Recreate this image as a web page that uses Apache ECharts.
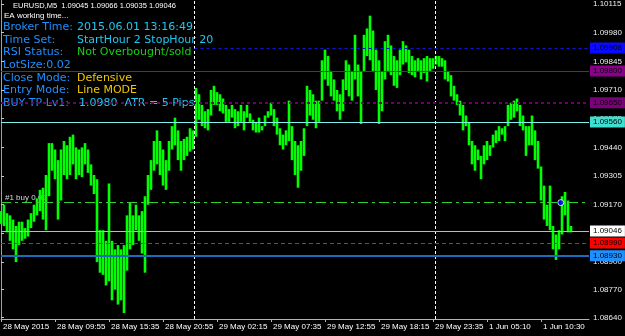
<!DOCTYPE html>
<html>
<head>
<meta charset="utf-8">
<title>EURUSD,M5</title>
<script src="https://cdn.jsdelivr.net/npm/echarts@6/dist/echarts.min.js"></script>
<style>html,body{margin:0;padding:0;background:#000;}</style>
</head>
<body>
<div id="main" style="width:625px;height:336px;"></div>
<script>
// time axis labels, one every 18 slots
var timeLabels = ['28 May 2015', '28 May 09:55', '28 May 15:35', '28 May 20:55', '29 May 02:15',
    '29 May 07:35', '29 May 12:55', '29 May 18:15', '29 May 23:35', '1 Jun 05:10', '1 Jun 10:30'];
var priceTicks = [1.10115, 1.09980, 1.09845, 1.09710, 1.09575, 1.09440, 1.09305, 1.09170,
    1.09035, 1.08900, 1.08770, 1.08640];

// high / low of each column of bars
var highs = [
    1.0914, 1.0917, 1.0913, 1.0912, 1.0910, 1.0907, 1.0909, 1.0909, 1.0906, 1.0910,
    1.0913, 1.0917, 1.0920, 1.0924, 1.0925, 1.0931, 1.0946, 1.0946, 1.0943, 1.0938,
    1.0943, 1.0947, 1.0945, 1.0949, 1.0950, 1.0944, 1.0943, 1.0944, 1.0946, 1.0943,
    1.0936, 1.0931, 1.0929, 1.0905, 1.0905, 1.0900, 1.0927, 1.0900, 1.0896, 1.0898,
    1.0896, 1.0898, 1.0912, 1.0918, 1.0912, 1.0917, 1.0912, 1.0914, 1.0921, 1.0931,
    1.0938, 1.0947, 1.0952, 1.0947, 1.0943, 1.0938, 1.0947, 1.0954, 1.0958, 1.0952,
    1.0947, 1.0948, 1.0949, 1.0953, 1.0952, 1.0972, 1.0969, 1.0964, 1.0961, 1.0962,
    1.0971, 1.0973, 1.0970, 1.0969, 1.0967, 1.0964, 1.0962, 1.0964, 1.0962, 1.0961,
    1.0964, 1.0961, 1.0964, 1.0960, 1.0957, 1.0956, 1.0958, 1.0954, 1.0959, 1.0961,
    1.0965, 1.0962, 1.0958, 1.0953, 1.0950, 1.0952, 1.0966, 1.0954, 1.0947, 1.0945,
    1.0947, 1.0953, 1.0973, 1.0971, 1.0969, 1.0966, 1.0966, 1.0985, 1.0990, 1.0987,
    1.0980, 1.0976, 1.0971, 1.0969, 1.0976, 1.0985, 1.0983, 1.0980, 1.0997, 1.0983,
    1.0980, 1.0997, 1.1000, 1.1006, 1.0999, 1.0990, 1.0985, 1.0980, 1.0994, 1.0997,
    1.0992, 1.0987, 1.0985, 1.0990, 1.0994, 1.0992, 1.0990, 1.0987, 1.0985, 1.0986,
    1.0985, 1.0986, 1.0987, 1.0986, 1.0986, 1.0987, 1.0987, 1.0986, 1.0985, 1.0980,
    1.0978, 1.0973, 1.0969, 1.0966, 1.0964, 1.0959, 1.0956, 1.0947, 1.0945, 1.0943,
    1.0940, 1.0945, 1.0947, 1.0945, 1.0950, 1.0952, 1.0954, 1.0953, 1.0954, 1.0964,
    1.0965, 1.0966, 1.0967, 1.0964, 1.0959, 1.0954, 1.0954, 1.0959, 1.0952, 1.0947,
    1.0935, 1.0926, 1.0917, 1.0926, 1.0907, 1.0903, 1.0905, 1.0921, 1.0923, 1.0919,
    1.0907
];
var lows = [
    1.0908, 1.0907, 1.0904, 1.0900, 1.0896, 1.0890, 1.0898, 1.0900, 1.0901, 1.0902,
    1.0906, 1.0909, 1.0912, 1.0914, 1.0910, 1.0905, 1.0921, 1.0933, 1.0929, 1.0910,
    1.0919, 1.0931, 1.0929, 1.0931, 1.0936, 1.0929, 1.0931, 1.0930, 1.0936, 1.0932,
    1.0926, 1.0922, 1.0890, 1.0885, 1.0884, 1.0879, 1.0881, 1.0872, 1.0877, 1.0870,
    1.0872, 1.0866, 1.0886, 1.0896, 1.0898, 1.0905, 1.0900, 1.0894, 1.0885, 1.0917,
    1.0924, 1.0933, 1.0936, 1.0931, 1.0926, 1.0924, 1.0933, 1.0943, 1.0945, 1.0938,
    1.0933, 1.0938, 1.0940, 1.0942, 1.0943, 1.0949, 1.0957, 1.0954, 1.0953, 1.0952,
    1.0959, 1.0964, 1.0964, 1.0961, 1.0960, 1.0956, 1.0956, 1.0958, 1.0953, 1.0954,
    1.0956, 1.0952, 1.0958, 1.0956, 1.0952, 1.0951, 1.0951, 1.0952, 1.0954, 1.0958,
    1.0959, 1.0954, 1.0950, 1.0945, 1.0943, 1.0945, 1.0947, 1.0938, 1.0931, 1.0925,
    1.0933, 1.0940, 1.0954, 1.0959, 1.0957, 1.0953, 1.0956, 1.0966, 1.0976, 1.0973,
    1.0968, 1.0966, 1.0961, 1.0957, 1.0961, 1.0971, 1.0968, 1.0966, 1.0976, 1.0968,
    1.0955, 1.0980, 1.0987, 1.0985, 1.0980, 1.0971, 1.0955, 1.0961, 1.0976, 1.0980,
    1.0978, 1.0973, 1.0972, 1.0978, 1.0983, 1.0984, 1.0979, 1.0978, 1.0977, 1.0980,
    1.0976, 1.0979, 1.0975, 1.0980, 1.0981, 1.0983, 1.0982, 1.0982, 1.0976, 1.0975,
    1.0968, 1.0966, 1.0964, 1.0959, 1.0952, 1.0954, 1.0945, 1.0936, 1.0933, 1.0938,
    1.0929, 1.0936, 1.0938, 1.0940, 1.0944, 1.0946, 1.0947, 1.0950, 1.0947, 1.0954,
    1.0957, 1.0958, 1.0961, 1.0954, 1.0952, 1.0940, 1.0945, 1.0945, 1.0938, 1.0934,
    1.0919, 1.0910, 1.0907, 1.0905, 1.0896, 1.0891, 1.0896, 1.0903, 1.0912, 1.0904,
    1.0904
];

// horizontal price levels (orders / EA lines) and vertical separators
var levelPrices = [1.09908, 1.09800, 1.09650, 1.09560, 1.09180, 1.09046, 1.08990, 1.08930];
var separators = [64.5, 144.6];
var orderOpen = [186.6, 1.09180];
var quote = [1.09045, 1.09066, 1.09035, 1.09046];

var panelKeys = ['Broker Time:', 'Time Set:', 'RSI Status:', 'LotSize:0.02', 'Close Mode:', 'Entry Mode:', 'BUY TP Lv1:'];
var panelValues = ['2015.06.01 13:16:49', 'StartHour 2 StopHour 20', 'Not Overbought/sold', '', 'Defensive', 'Line MODE', '1.0980  ATR = 5 Pips'];

var barsPerLabel = 18;
var slotCount = 196;

var font = 'Liberation Sans';
var panelFont = 'DejaVu Sans';

// from: slot where the line starts (the blue line starts at the first separator)
var levelStyles = [
    {from: 64.5, line: {color: '#1414d8', type: [3, 3], width: 1}, bg: '#0a0aff'},
    {from: 0, line: {color: '#9a009a', type: 'solid', width: 1}, bg: '#8a008a'},
    {from: 0, line: {color: '#6c006c', type: [3, 3], width: 2}, bg: '#7c007c'},
    {from: 0, line: {color: '#80f0ea', type: 'solid', width: 1}, bg: '#40e0d0'},
    {from: 0, line: {color: '#30d030', type: [10, 4, 3, 4], width: 1}, bg: null},
    {from: 0, line: {color: '#b8bcc8', type: 'solid', width: 1}, bg: '#ffffff'},
    {from: 0, line: {color: '#ff1010', type: [4, 3], width: 1}, bg: '#ff0000'},
    {from: 0, line: {color: '#1c6cbc', type: 'solid', width: 2}, bg: '#1e90ff'}
];
var valueColors = ['#1ec8f0', '#1ec8f0', '#16d016', '', '#f0c800', '#f0c800', '#1ec8f0'];

var myChart = echarts.init(document.getElementById('main'));

var barData = highs.map(function (h, i) { return [i, lows[i], h]; });

var levelLines = levelPrices.map(function (p, i) {
    var s = levelStyles[i];
    return [{
        coord: [s.from, p],
        lineStyle: s.line,
        label: s.bg ? {
            show: true, position: 'end', distance: 1,
            formatter: function () { return p.toFixed(5); },
            backgroundColor: s.bg, color: '#000', fontSize: 8, fontFamily: font,
            padding: [2, 3, 1, 3]
        } : {show: false}
    }, {coord: [slotCount, p]}];
});

var sepLines = separators.map(function (x) {
    return {xAxis: x, lineStyle: {color: '#ffffff', type: [3, 2], width: 1}, label: {show: false}};
});

var graphics = [
    {type: 'text', x: 13, y: 6, style: {text: 'EURUSD,M5  ' + quote.map(function (q) { return q.toFixed(5); }).join(' '),
        fill: '#ffffff', font: '7.5px "' + font + '"', verticalAlign: 'middle'}},
    {type: 'text', x: 4, y: 16, style: {text: 'EA working time...', fill: '#ffffff', font: '8px "' + font + '"', verticalAlign: 'middle'}},
    {type: 'text', x: 5, y: 198, style: {text: '#1 buy 0.02', fill: '#d8d8e0', font: '8px "' + font + '"', verticalAlign: 'middle'}}
];
var rowY = [27, 40, 52.5, 65, 78, 90.5, 103];
panelKeys.forEach(function (k, i) {
    graphics.push({type: 'text', x: 3, y: rowY[i], style: {text: k, fill: '#1e90ff', font: '11px "' + panelFont + '"', verticalAlign: 'middle'}});
    if (panelValues[i]) {
        graphics.push({type: 'text', x: i === 6 ? 79 : 77, y: rowY[i], style: {text: panelValues[i], fill: valueColors[i], font: '11px "' + panelFont + '"', verticalAlign: 'middle'}});
    }
});

var option = {
    backgroundColor: '#000000',
    animation: false,
    grid: {left: 0, right: 36, top: 0, bottom: 17, containLabel: false},
    xAxis: {
        type: 'value', min: 0, max: slotCount, interval: barsPerLabel,
        axisLine: {show: true, lineStyle: {color: '#b4b4b4', width: 1}},
        axisTick: {show: true, length: 3, lineStyle: {color: '#b4b4b4'}},
        axisLabel: {
            color: '#ffffff', fontSize: 8, fontFamily: font, align: 'left', margin: 4,
            padding: [0, 0, 0, 2], showMaxLabel: false,
            formatter: function (v) {
                return v % barsPerLabel === 0 ? (timeLabels[v / barsPerLabel] || '') : '';
            }
        },
        splitLine: {show: false}
    },
    yAxis: {
        type: 'value', position: 'right', min: 1.08632, max: 1.10132,
        axisLine: {show: true, lineStyle: {color: '#a0a0a0', width: 1}},
        axisTick: {show: true, length: 3, customValues: priceTicks, lineStyle: {color: '#c8c8c8'}},
        axisLabel: {
            color: '#f0f0f0', fontSize: 8, fontFamily: font, margin: 4, customValues: priceTicks,
            formatter: function (v) { return v.toFixed(5); }
        },
        splitLine: {show: false}
    },
    series: [
        {
            type: 'custom',
            data: barData,
            encode: {x: 0, y: [1, 2]},
            renderItem: function (params, api) {
                var top = api.coord([api.value(0), api.value(2)]);
                var bot = api.coord([api.value(0), api.value(1)]);
                return {
                    type: 'rect',
                    shape: {x: top[0] - 1.3, y: top[1], width: 2.6, height: Math.max(1, bot[1] - top[1])},
                    style: {fill: '#00ff00'}
                };
            },
            z: 2
        },
        {
            type: 'scatter',
            data: [orderOpen],
            symbol: 'circle', symbolSize: 6,
            itemStyle: {color: '#0000ff', borderColor: '#ffffff', borderWidth: 1},
            z: 5,
            markLine: {
                silent: true, symbol: ['none', 'none'], animation: false, precision: 5,
                data: sepLines.concat(levelLines)
            }
        }
    ],
    graphic: graphics
};

myChart.setOption(option);
</script>
</body>
</html>
